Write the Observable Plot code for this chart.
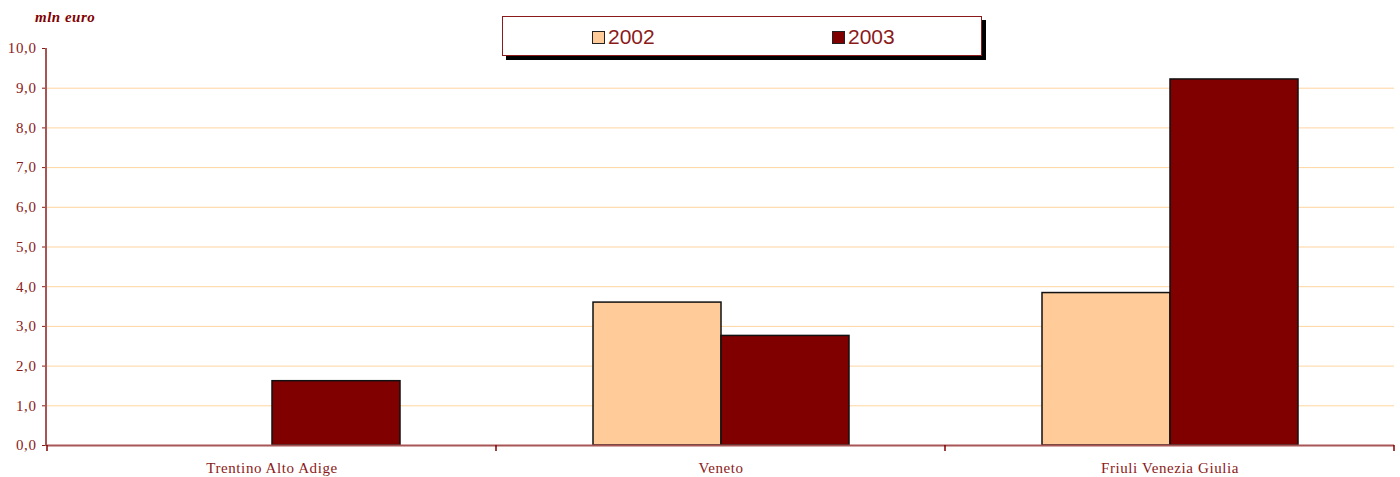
<!DOCTYPE html>
<html><head><meta charset="utf-8">
<script src="https://cdn.jsdelivr.net/npm/d3@7"></script>
<script src="https://cdn.jsdelivr.net/npm/@observablehq/plot@0.6"></script>
<style>
body{margin:0;background:#fff;}
#wrap{position:relative;width:1400px;height:477px;overflow:hidden;}
#unit{position:absolute;left:35px;top:9px;font:bold italic 15px "Liberation Serif",serif;letter-spacing:0.5px;color:#800000;}
#legend{position:absolute;left:502px;top:16px;width:478px;height:38px;border:1px solid #8b1a1a;box-shadow:4px 4px 0 #000;background:#fff;}
.item{position:absolute;top:1px;height:38px;display:flex;align-items:center;font:21px "Liberation Sans",Arial,sans-serif;color:#8b1a1a;}
.sw{width:11px;height:11px;border:1.5px solid #222;margin-right:3px;}
</style></head><body>
<div id="wrap"><div id="chart"></div><div id="unit">mln euro</div><div id="legend"></div></div>
<script>
const regions = ["Trentino Alto Adige", "Veneto", "Friuli Venezia Giulia"];
const years = ["2002", "2003"];
const values2002 = [null, 3.60, 3.84];
const values2003 = [1.62, 2.76, 9.22];
const yTicks = [0, 1, 2, 3, 4, 5, 6, 7, 8, 9, 10];
const colors = ["#FFCC99", "#800000"];
const legendOffsets = [89, 329];

const data = regions.flatMap((r, i) => [
  {region: r, year: years[0], value: values2002[i]},
  {region: r, year: years[1], value: values2003[i]}
]);
const fmt = d => d.toFixed(1).replace(".", ",");

const plot = Plot.plot({
  width: 1400, height: 477,
  marginLeft: 46, marginRight: 6, marginTop: 48, marginBottom: 32,
  style: {fontFamily: '"Liberation Serif", serif', fontSize: "15px", letterSpacing: "0.6px", color: "#8b1a1a", background: "transparent"},
  fx: {domain: regions, padding: 0, label: null, axis: "bottom", tickSize: 0, tickPadding: 17},
  x: {domain: years, paddingInner: 0, paddingOuter: 0.747, axis: null},
  y: {domain: [0, 10], ticks: yTicks, tickFormat: fmt, tickSize: 5, tickPadding: 6, label: null},
  color: {domain: years, range: colors},
  marks: [
    Plot.ruleY(yTicks.filter(v => v > 0 && v < 10), {stroke: "#FFD5A0", strokeWidth: 1}),
    Plot.barY(data, {fx: "region", x: "year", y: "value", fill: "year", stroke: "#111", strokeWidth: 1.5}),
    Plot.ruleY([0], {stroke: "#a85555", strokeWidth: 2})
  ]
});
document.getElementById("chart").appendChild(plot);

// axis line and boundary ticks from the plot's own scales
try {
  const svgEl = plot.tagName.toLowerCase() === "svg" ? plot : plot.querySelector("svg");
  const svg = d3.select(svgEl);
  const fxS = plot.scale("fx"), yS = plot.scale("y");
  const x0 = fxS.range[0];
  const yTop = yS.apply(10), yBot = yS.apply(0);
  svg.append("line").attr("x1", x0).attr("x2", x0).attr("y1", yTop).attr("y2", yBot + 1)
    .attr("stroke", "#a85555").attr("stroke-width", 2);
  const edges = regions.map(r => fxS.apply(r)).concat([fxS.apply(regions[regions.length - 1]) + fxS.bandwidth]);
  edges.forEach(e => {
    svg.append("line").attr("x1", e).attr("x2", e).attr("y1", yBot).attr("y2", yBot + 6)
      .attr("stroke", "#800000").attr("stroke-width", 1.5);
  });
} catch (e) { console.error(e); }

// legend
const legend = document.getElementById("legend");
years.forEach((y, i) => {
  const it = document.createElement("div");
  it.className = "item";
  it.style.left = legendOffsets[i] + "px";
  it.innerHTML = `<div class="sw" style="background:${colors[i]}"></div><span>${y}</span>`;
  legend.appendChild(it);
});
</script>
</body></html>
